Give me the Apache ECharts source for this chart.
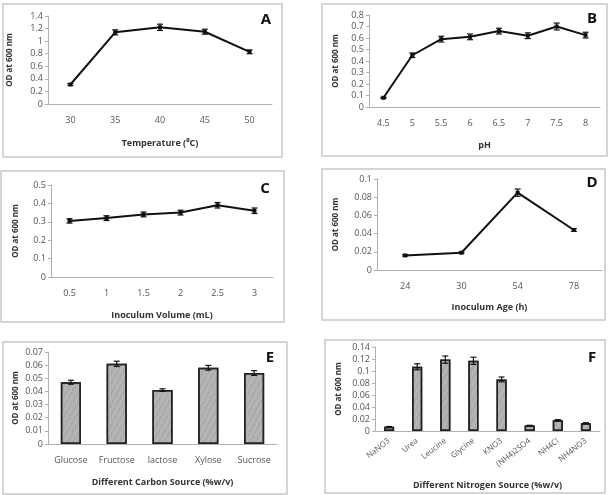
<!DOCTYPE html>
<html>
<head>
<meta charset="utf-8">
<script src="https://cdn.jsdelivr.net/npm/echarts@6/dist/echarts.min.js"></script>
<style>
html, body { margin: 0; padding: 0; background: #fff; }
#main { width: 609px; height: 495px; }
</style>
</head>
<body>
<div id="main"></div>
<script>
// A - temperature
var tempCats = ['30', '35', '40', '45', '50'];
var tempVals = [0.31, 1.14, 1.22, 1.15, 0.83];
var tempErr = [0.015, 0.04, 0.05, 0.04, 0.03];
// B - pH
var phCats = ['4.5', '5', '5.5', '6', '6.5', '7', '7.5', '8'];
var phVals = [0.08, 0.45, 0.59, 0.61, 0.66, 0.62, 0.70, 0.625];
var phErr = [0.005, 0.02, 0.025, 0.025, 0.025, 0.025, 0.03, 0.025];
// C - inoculum volume
var volCats = ['0.5', '1', '1.5', '2', '2.5', '3'];
var volVals = [0.305, 0.32, 0.34, 0.35, 0.39, 0.36];
var volErr = [0.012, 0.013, 0.013, 0.013, 0.015, 0.015];
// D - inoculum age
var ageCats = ['24', '30', '54', '78'];
var ageVals = [0.016, 0.019, 0.085, 0.044];
var ageErr = [0.0008, 0.0008, 0.004, 0.0015];
// E - carbon source
var carbCats = ['Glucose', 'Fructose', 'lactose', 'Xylose', 'Sucrose'];
var carbVals = [0.047, 0.061, 0.041, 0.058, 0.054];
var carbErr = [0.0015, 0.002, 0.001, 0.0018, 0.0018];
// F - nitrogen source
var nitCats = ['NaNO3', 'Urea', 'Leucine', 'Glycine', 'KNO3', '(NH4)2SO4', 'NH4Cl', 'NH4NO3'];
var nitVals = [0.007, 0.107, 0.119, 0.117, 0.086, 0.009, 0.018, 0.013];
var nitErr = [0.0005, 0.005, 0.006, 0.006, 0.004, 0.0005, 0.001, 0.0008];

var myChart = echarts.init(document.getElementById('main'));

var font = '"Open Sans", "Liberation Sans", sans-serif';

var panels = [
    { key: 'A', grid: [48, 16, 224, 88], cats: tempCats, vals: tempVals, err: tempErr, max: 1.4, step: 0.2, type: 'line', xname: 'Temperature (\u2070C)', xgap: 35, ygap: 34, box: [3, 4, 279, 153], letter: [266, 20] },
    { key: 'B', grid: [369, 15, 231, 92], cats: phCats, vals: phVals, err: phErr, max: 0.8, step: 0.1, type: 'line', xname: 'pH', xgap: 34, ygap: 29, box: [322, 4, 285, 152], letter: [592, 19] },
    { key: 'C', grid: [51, 185, 222, 92], cats: volCats, vals: volVals, err: volErr, max: 0.5, step: 0.1, type: 'line', xname: 'Inoculum Volume (mL)', xgap: 34, ygap: 31, box: [1, 171, 283, 151], letter: [265, 189] },
    { key: 'D', grid: [377, 179, 225, 91], cats: ageCats, vals: ageVals, err: ageErr, max: 0.1, step: 0.02, type: 'line', xname: 'Inoculum Age (h)', xgap: 33, ygap: 37, box: [322, 169, 283, 151], letter: [592, 183] },
    { key: 'E', grid: [48, 352, 229, 92], cats: carbCats, vals: carbVals, err: carbErr, max: 0.07, step: 0.01, type: 'bar', xname: 'Different Carbon Source (%w/v)', xgap: 34, ygap: 28, box: [3, 342, 284, 152], letter: [270, 358] },
    { key: 'F', grid: [375, 347, 225, 84], cats: nitCats, vals: nitVals, err: nitErr, max: 0.14, step: 0.02, type: 'bar', xname: 'Different Nitrogen Source (%w/v)', xgap: 50, ygap: 32, box: [325, 340, 280, 153], letter: [592, 358], rotate: 38, labelSize: 8, labelMargin: 9 }
];

var grids = [], xAxes = [], yAxes = [], series = [], graphics = [];

function errorItem(params, api) {
    var x = api.value(0);
    var lo = api.coord([x, api.value(1)]);
    var hi = api.coord([x, api.value(2)]);
    var w = 3;
    var st = { stroke: '#111', lineWidth: 1.2 };
    return {
        type: 'group',
        children: [
            { type: 'line', shape: { x1: lo[0], y1: lo[1], x2: hi[0], y2: hi[1] }, style: st },
            { type: 'line', shape: { x1: lo[0] - w, y1: lo[1], x2: lo[0] + w, y2: lo[1] }, style: st },
            { type: 'line', shape: { x1: hi[0] - w, y1: hi[1], x2: hi[0] + w, y2: hi[1] }, style: st }
        ]
    };
}

panels.forEach(function (p, i) {
    graphics.push({
        type: 'rect', z: -1,
        shape: { x: p.box[0], y: p.box[1], width: p.box[2], height: p.box[3] },
        style: { fill: '#fff', stroke: '#c8c8c8', lineWidth: 1.5 }
    });
    graphics.push({
        type: 'text', x: p.letter[0], y: p.letter[1],
        style: { text: p.key, font: 'bold 15px ' + font, fill: '#111', textAlign: 'center', textVerticalAlign: 'middle' }
    });
    grids.push({ left: p.grid[0], top: p.grid[1], width: p.grid[2], height: p.grid[3] });
    xAxes.push({
        type: 'category', gridIndex: i, data: p.cats,
        name: p.xname, nameLocation: 'middle', nameGap: p.xgap,
        nameTextStyle: { fontFamily: font, fontSize: 9, fontWeight: 'bold', color: '#333' },
        axisLine: { lineStyle: { color: '#b0b0b0' } },
        axisTick: { show: false },
        axisLabel: {
            fontFamily: font, fontSize: p.labelSize || 9, color: '#555',
            margin: p.labelMargin || 12, rotate: p.rotate || 0, interval: 0
        }
    });
    yAxes.push({
        type: 'value', gridIndex: i, min: 0, max: p.max, interval: p.step,
        name: 'OD at 600 nm', nameLocation: 'middle', nameGap: p.ygap,
        nameTextStyle: { fontFamily: font, fontSize: 8, fontWeight: 'bold', color: '#333' },
        axisLine: { show: true, lineStyle: { color: '#b0b0b0' } },
        axisTick: { show: true, length: 3, lineStyle: { color: '#b0b0b0' } },
        splitLine: { show: false },
        axisLabel: { fontFamily: font, fontSize: 9, color: '#555', margin: 5 }
    });
    if (p.type === 'line') {
        series.push({
            type: 'line', xAxisIndex: i, yAxisIndex: i, data: p.vals,
            symbol: 'rect', symbolSize: 4, animation: false,
            lineStyle: { color: '#111', width: 2 },
            itemStyle: { color: '#111' }
        });
    } else {
        series.push({
            type: 'bar', xAxisIndex: i, yAxisIndex: i, data: p.vals,
            barWidth: p.key === 'E' ? '44%' : '36%', animation: false,
            itemStyle: {
                color: '#b4b4b4', borderColor: '#222', borderWidth: 1.5,
                decal: {
                    symbol: 'circle', symbolSize: 0.6,
                    dashArrayX: [[3, 2], [2, 3]], dashArrayY: [2, 1],
                    rotation: 0.5, color: 'rgba(70,70,70,0.55)'
                }
            }
        });
    }
    var errData = [];
    for (var k = 0; k < p.vals.length; k++) {
        errData.push([k, p.vals[k] - p.err[k], p.vals[k] + p.err[k]]);
    }
    series.push({
        type: 'custom', xAxisIndex: i, yAxisIndex: i, data: errData,
        renderItem: errorItem, z: 5, animation: false
    });
});

myChart.setOption({
    backgroundColor: '#fff',
    animation: false,
    graphic: graphics,
    grid: grids,
    xAxis: xAxes,
    yAxis: yAxes,
    series: series
});
</script>
</body>
</html>
